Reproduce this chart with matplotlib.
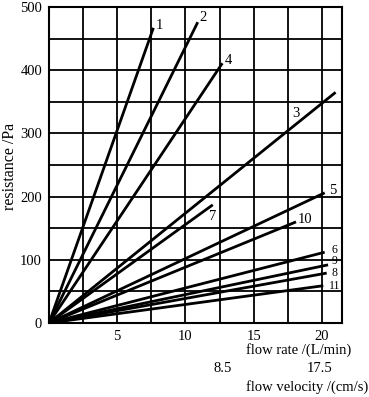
import matplotlib
matplotlib.use("Agg")
import matplotlib.pyplot as plt

plt.rcParams['font.family'] = ['Liberation Serif', 'DejaVu Serif']

# Data: each line starts at origin, ends at (flow, resistance)
line_ids = ['1', '2', '3', '4', '5', '6', '7', '8', '9', '10', '11']
end_flow = [7.65, 10.9, 21.0, 12.7, 20.2, 20.2, 12.0, 20.35, 20.45, 18.1, 20.1]
end_res = [467, 476, 365, 411, 206, 112, 187, 79, 92, 160, 59]
label_x = [7.8, 11.0, 17.8, 12.9, 20.5, 20.7, 11.7, 20.7, 20.7, 18.2, 20.5]
label_y = [470, 484, 332, 416, 210, 116, 168, 79, 98, 163, 59]

x_ticks = [5, 10, 15, 20]
y_ticks = [0, 100, 200, 300, 400, 500]
velocity_labels = ['8.5', '17.5']
velocity_pos = [12.7, 19.8]

W, H = 369, 397
fig = plt.figure(figsize=(W / 100, H / 100), dpi=100)
ax = fig.add_axes([49 / W, 1 - 323 / H, (342 - 49) / W, (323 - 7) / H])
ax.set_xlim(0, 21.47)
ax.set_ylim(0, 500)

# grid
for gx in [2.5 * i for i in range(1, 9)]:
    ax.axvline(gx, color='black', lw=1.3, zorder=1)
for gy in [50 * i for i in range(1, 10)]:
    ax.axhline(gy, color='black', lw=1.3, zorder=1)

small = {'6', '8', '9', '11'}
for lid, fx, ry, lx, ly in zip(line_ids, end_flow, end_res, label_x, label_y):
    ax.plot([0, fx], [0, ry], color='black', lw=2.0, solid_capstyle='butt', zorder=3)
    ax.text(lx, ly, lid, ha='left', va='center',
            fontsize=(8.5 if lid in small else 10.5), color='black')

ax.set_xticks(x_ticks)
ax.set_yticks(y_ticks)
ax.tick_params(length=0, labelsize=10.5, pad=5)
for s in ax.spines.values():
    s.set_linewidth(1.5)
    s.set_color('black')

ax.set_ylabel('resistance /Pa', fontsize=11.5)
ax.yaxis.set_label_coords(-0.105, 0.494)

fig.text(299 / W, 1 - 350 / H, 'flow rate /(L/min)', ha='center', va='center', fontsize=10.5)
for lab, pos in zip(velocity_labels, velocity_pos):
    xd = ax.transData.transform((pos, 0))[0]
    fig.text(xd / W, 1 - 369 / H, lab, ha='center', va='center', fontsize=10.5)
fig.text(307 / W, 1 - 387 / H, 'flow velocity /(cm/s)', ha='center', va='center', fontsize=10.5)

fig.savefig('out.png', dpi=100)
